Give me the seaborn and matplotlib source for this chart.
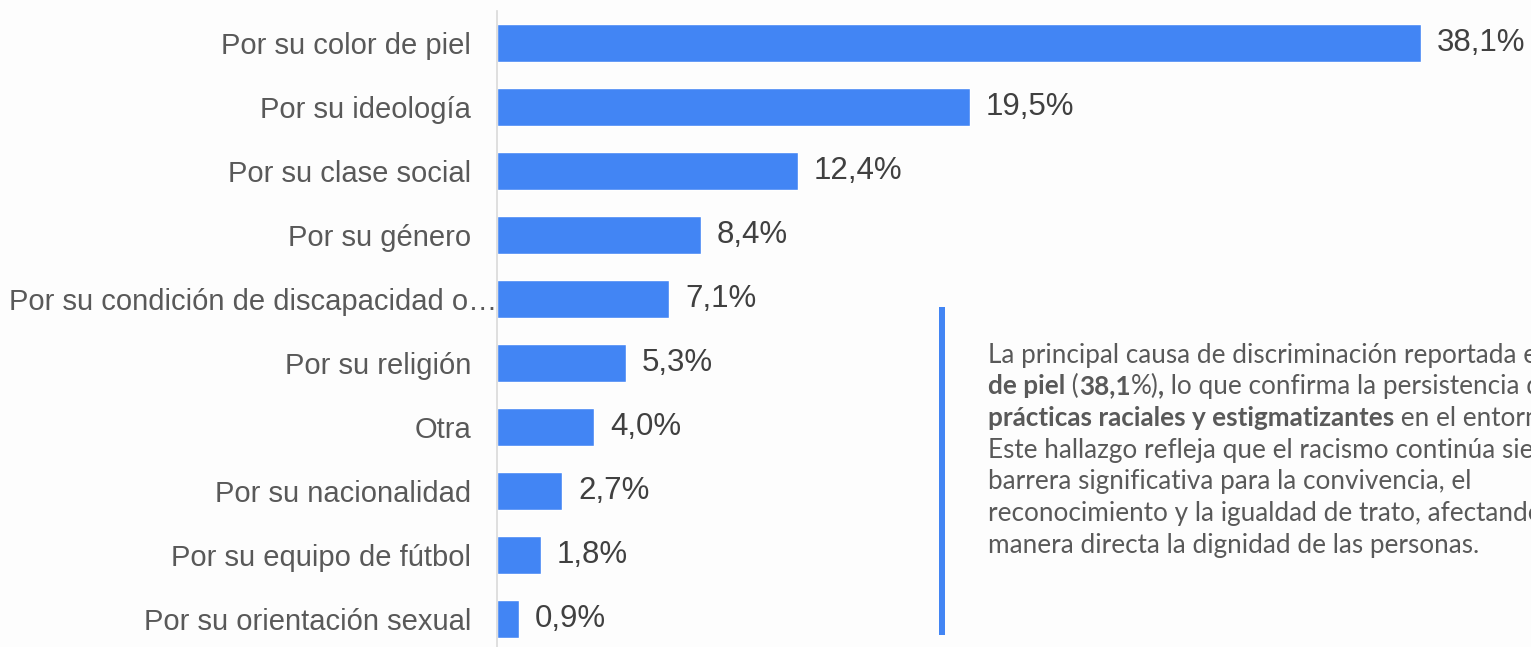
import numpy as np
import pandas as pd
import matplotlib
matplotlib.use("Agg")
import matplotlib.pyplot as plt
import seaborn as sns

# data
categories = [
    "Por su color de piel",
    "Por su ideología",
    "Por su clase social",
    "Por su género",
    "Por su condición de discapacidad o…",
    "Por su religión",
    "Otra",
    "Por su nacionalidad",
    "Por su equipo de fútbol",
    "Por su orientación sexual",
]
values = [38.1, 19.5, 12.4, 8.4, 7.1, 5.3, 4.0, 2.7, 1.8, 0.9]

note_lines = [
    [("La principal causa de discriminación reportada es el ", False), ("color", True)],
    [("de piel", True), (" (", False), ("38,1", True), ("%)", False), (",", True),
     (" lo que confirma la persistencia de", False)],
    [("prácticas raciales y estigmatizantes", True), (" en el entorno.", False)],
    [("Este hallazgo refleja que el racismo continúa siendo una", False)],
    [("barrera significativa para la convivencia, el", False)],
    [("reconocimiento y la igualdad de trato, afectando de", False)],
    [("manera directa la dignidad de las personas.", False)],
]

BLUE = "#4285F4"
TXT = "#595959"
W, H = 1531, 647
LONG = 4  # truncated label overflows toward the axis

sns.set_style("white")
plt.rcParams["font.family"] = ["Liberation Sans", "DejaVu Sans"]

df = pd.DataFrame({"cat": categories, "val": values})

fig = plt.figure(figsize=(W / 100, H / 100), dpi=100, facecolor="#fdfdfd")
ax = fig.add_axes([497 / W, -4 / H, 1 - 497 / W, 640 / H])
ax.set_facecolor("none")

sns.barplot(data=df, x="val", y="cat", orient="h", color=BLUE, saturation=1,
            width=0.6, ax=ax)

ax.set_xlim(0, (W - 497) / 24.25)
ax.set_ylim(9.5, -0.5)
ax.set_xlabel("")
ax.set_ylabel("")
ax.set_xticks([])
ax.set_yticks(range(len(categories)))
ax.set_yticklabels(["" if i == LONG else c for i, c in enumerate(categories)])
ax.tick_params(axis="y", length=0, pad=18.5, labelsize=21, labelcolor=TXT)
ax.annotate(categories[LONG], xy=(0, LONG), xycoords=("axes fraction", "data"),
            xytext=(0, 0), textcoords="offset pixels", ha="right",
            va="center_baseline", fontsize=21, color=TXT, annotation_clip=False)
for s in ["top", "right", "bottom"]:
    ax.spines[s].set_visible(False)
ax.spines["left"].set_color("#d9d9d9")
ax.spines["left"].set_linewidth(1.2)

ax.bar_label(ax.containers[0], labels=[f"{v:.1f}".replace(".", ",") + "%" for v in values],
             padding=11.5, fontsize=22.5, color="#404040")

# side note: accent bar + rich text
fig.add_artist(plt.Rectangle((938.5 / W, (H - 635) / H), 6.5 / W, 328 / H,
                             transform=fig.transFigure, color=BLUE, lw=0))

fig.canvas.draw()
renderer = fig.canvas.get_renderer()
x0 = 988
base = 362.5
step = 31.7
for i, line in enumerate(note_lines):
    x = x0
    y = base + i * step
    for seg, bold in line:
        t = fig.text(x / W, 1 - y / H, seg, fontsize=18.85, color=TXT,
                     family=["Lato", "DejaVu Sans"],
                     fontweight="bold" if bold else "normal",
                     ha="left", va="baseline")
        bb = t.get_window_extent(renderer)
        x += bb.width

fig.savefig("out.png", dpi=100, facecolor=fig.get_facecolor())
